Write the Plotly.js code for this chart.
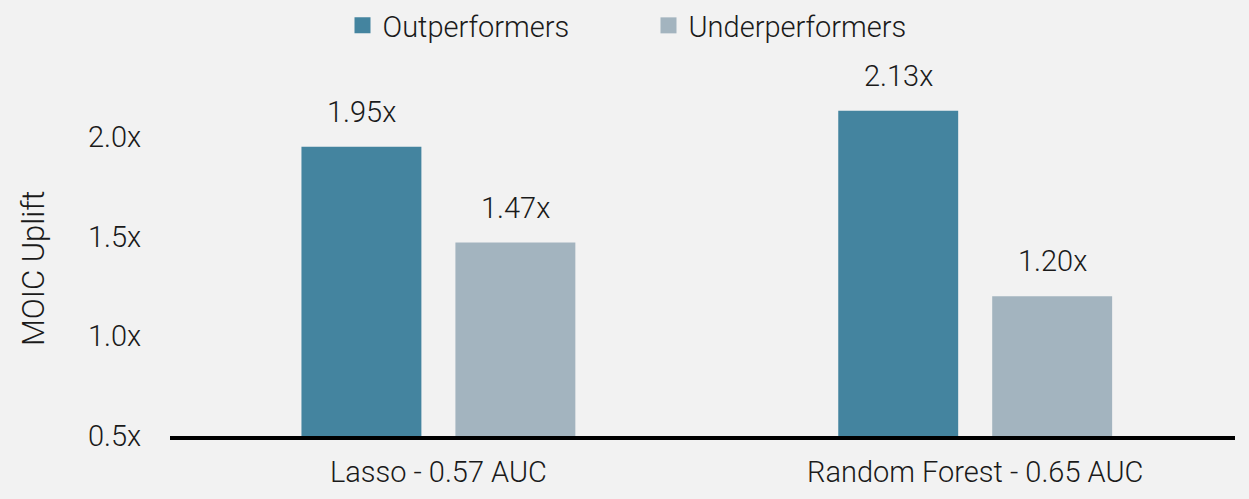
<!DOCTYPE html>
<html>
<head>
<meta charset="utf-8">
<script src="https://cdn.plot.ly/plotly-3.0.1.min.js"></script>
<style>html,body{margin:0;padding:0;background:#f2f2f2;}</style>
</head>
<body>
<div id="chart" style="width:1249px;height:499px;"></div>
<script>
const categories = ["Lasso - 0.57 AUC", "Random Forest - 0.65 AUC"];
const outperformers = [1.95, 2.13];
const underperformers = [1.47, 1.20];
const seriesNames = ["Outperformers", "Underperformers"];
const yTickVals = [0.5, 1.0, 1.5, 2.0];
const yTickText = yTickVals.map(v => v.toFixed(1) + "x");
const yTitle = "MOIC Uplift";

const FONT = "'Roboto Light', Roboto, sans-serif";
const FS = 29;
const TXT = "#1a1a1a";
const colors = ["#44849f", "#a3b4bf"];
const txtFont = {family: FONT, size: FS, color: TXT, weight: 300};

const series = [outperformers, underperformers];
const traces = series.map((vals, i) => ({
  type: "bar",
  name: seriesNames[i],
  x: categories,
  y: vals,
  base: 0,
  marker: {color: colors[i]},
  showlegend: false,
  hoverinfo: "skip"
}));
series.forEach((vals, i) => traces.push({
  type: "scatter", mode: "markers", name: seriesNames[i],
  x: [null], y: [null],
  marker: {symbol: "square", size: 17, color: colors[i]},
  showlegend: true, hoverinfo: "skip"
}));

const annotations = [];
series.forEach((vals, i) => {
  vals.forEach((v, j) => {
    annotations.push({
      x: categories[j], y: v, xref: "x", yref: "y",
      text: v.toFixed(2) + "x", showarrow: false,
      xshift: i === 0 ? -77 : 77, yshift: 35, yanchor: "middle",
      font: txtFont
    });
  });
});
annotations.push({
  xref: "paper", yref: "paper", x: 0, y: 0.443, xshift: -137,
  xanchor: "center", yanchor: "middle", textangle: -90,
  text: yTitle, showarrow: false, font: Object.assign({}, txtFont, {size: 31})
});

const layout = {
  width: 1249, height: 499,
  paper_bgcolor: "#f2f2f2", plot_bgcolor: "#f2f2f2",
  margin: {l: 170, r: 14, t: 57, b: 63},
  barmode: "group", bargap: 0.4264, bargroupgap: 0.221,
  font: txtFont,
  showlegend: true,
  legend: {orientation: "h", x: 0.4493, xanchor: "center", xref: "paper", y: 1, yref: "container", yanchor: "top",
    font: txtFont, bgcolor: "rgba(0,0,0,0)", traceorder: "normal", itemwidth: 30, entrywidth: 261},
  xaxis: {type: "category", range: [-0.5, 1.484], showline: true, linecolor: "#000", linewidth: 4, showgrid: false, zeroline: false,
    ticks: "outside", ticklen: 7, tickcolor: "rgba(0,0,0,0)",
    tickfont: txtFont},
  yaxis: {range: [0.5, 2.4], tickvals: yTickVals, ticktext: yTickText,
    showgrid: false, zeroline: false, showline: false,
    ticks: "outside", ticklen: 22, tickcolor: "rgba(0,0,0,0)",
    tickfont: txtFont},
  annotations: annotations
};

Plotly.newPlot("chart", traces, layout, {staticPlot: true, displayModeBar: false});
</script>
</body>
</html>
